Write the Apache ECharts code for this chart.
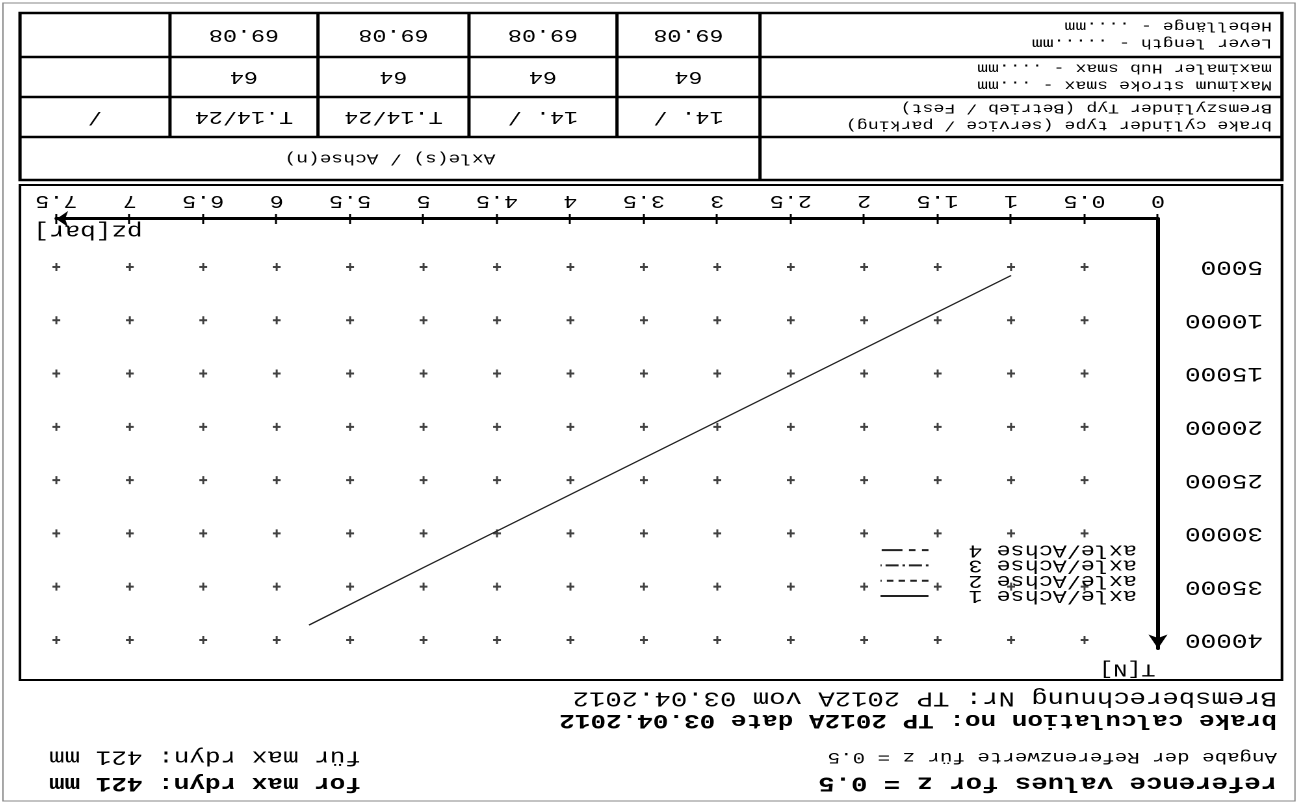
<!DOCTYPE html>
<html>
<head>
<meta charset="utf-8">
<script src="https://cdn.jsdelivr.net/npm/echarts@6/dist/echarts.min.js"></script>
<style>
  html, body { margin: 0; padding: 0; background: #fff; }
  /* the scanned sheet is upside down, so the whole page is turned round */
  #sheet { width: 1303px; height: 802px; overflow: hidden; background: #fff; transform: rotate(180deg); }
  /* typewriter text on the scan is wide, stretch everything a bit */
  #chart { height: 802px; transform-origin: 0 0; }
</style>
</head>
<body>
<div id="sheet"><div id="chart"></div></div>
<script>
const S = 1.3;
const W = 1303 / S;
const X = v => v / S;
const FONT = '"Liberation Mono", "DejaVu Sans Mono", monospace';

// axis ticks
const xTicks = [0, 0.5, 1, 1.5, 2, 2.5, 3, 3.5, 4, 4.5, 5, 5.5, 6, 6.5, 7, 7.5];
const yTicks = [5000, 10000, 15000, 20000, 25000, 30000, 35000, 40000];

// series
const axleNames = ['axle/Achse 1', 'axle/Achse 2', 'axle/Achse 3', 'axle/Achse 4'];
const axle1Pressure = [1.0, 2.0, 3.0, 4.0, 5.0, 5.78];
const axle1Force = [5800, 12650, 19500, 26350, 33200, 38600];

// table
const tableHeader = 'Axle(s) / Achse(n)';
const cylinderTypes = ['14. /', '14. /', 'T.14/24', 'T.14/24', '/'];
const maxStroke = ['64', '64', '64', '64', ''];
const leverLength = ['69.08', '69.08', '69.08', '69.08', ''];
const cylinderLabel = ['brake cylinder type (service / parking)', 'Bremszylinder Typ (Betrieb / Fest)'];
const strokeLabel = ['Maximum stroke smax - ...mm', 'maximaler Hub smax - ....mm'];
const leverLabel = ['Lever length - .....mm', 'Hebellänge - ....mm'];

// footer
const footerLeft = [
  ['Bremsberechnung Nr: TP 2012A vom 03.04.2012', false, 21, 104],
  ['brake calculation no: TP 2012A date 03.04.2012', true, 20, 82],
  ['Angabe der Referenzwerte für z = 0.5', false, 16, 45],
  ['reference values for z = 0.5', true, 21, 19]
];
const footerRight = [
  ['für max rdyn: 421 mm', false, 20, 45],
  ['for max rdyn: 421 mm', true, 20, 19]
];

document.getElementById('chart').style.width = W + 'px';
document.getElementById('chart').style.transform = 'scaleX(' + S + ')';

function txt(str, x, y, size, align, bold) {
  return {
    type: 'text', x: X(x), y: y, silent: true,
    style: {
      text: str, fill: '#000',
      font: (bold ? 'bold ' : '') + size + 'px ' + FONT,
      align: align || 'left', verticalAlign: 'middle'
    }
  };
}
function ln(x1, y1, x2, y2, w, c) {
  return {
    type: 'line', silent: true,
    shape: { x1: X(x1), y1: y1, x2: X(x2), y2: y2 },
    style: { stroke: c || '#000', lineWidth: w || 2 }
  };
}

// table geometry
const cols = [543, 686, 834, 985, 1133, 1283];
const rows = [622, 665, 705, 745, 789];

const graphics = [];
// page frame and chart box
graphics.push({ type: 'rect', silent: true, shape: { x: X(8), y: 1, width: X(1292), height: 798 }, style: { fill: 'none', stroke: '#888', lineWidth: 1 } });
graphics.push({ type: 'rect', silent: true, shape: { x: X(21), y: 122, width: X(1262), height: 495 }, style: { fill: 'none', stroke: '#000', lineWidth: 2 } });
// table lines
graphics.push({ type: 'rect', silent: true, shape: { x: X(21), y: rows[0], width: X(1262), height: rows[4] - rows[0] }, style: { fill: 'none', stroke: '#000', lineWidth: 2.5 } });
for (let i = 1; i < 4; i++) graphics.push(ln(21, rows[i], 1283, rows[i], 2.5));
graphics.push(ln(cols[0], rows[0], cols[0], rows[4], 2.5));
for (let i = 1; i < 5; i++) graphics.push(ln(cols[i], rows[1], cols[i], rows[4], 2.5));
// table texts
graphics.push(txt(tableHeader, (cols[0] + cols[5]) / 2, (rows[0] + rows[1]) / 2, 15, 'center'));
[cylinderTypes, maxStroke, leverLength].forEach((vals, r) => {
  vals.forEach((v, i) => {
    if (v) graphics.push(txt(v, (cols[i] + cols[i + 1]) / 2, (rows[r + 1] + rows[r + 2]) / 2, 18, 'center'));
  });
});
[cylinderLabel, strokeLabel, leverLabel].forEach((lab, r) => {
  const mid = (rows[r + 1] + rows[r + 2]) / 2;
  graphics.push(txt(lab[0], 31, mid - 8, 14));
  graphics.push(txt(lab[1], 31, mid + 9, 14));
});
footerLeft.forEach(f => graphics.push(txt(f[0], 26, f[3], f[2], 'left', f[1])));
footerRight.forEach(f => graphics.push(txt(f[0], 942, f[3], f[2], 'left', f[1])));

// "+" marks at every grid crossing
const crossData = [];
xTicks.slice(1).forEach(x => yTicks.forEach(y => crossData.push([x, y])));
const plusPath = 'path://M3,0h2v3h3v2h-3v3h-2v-3h-3v-2h3z';

const lineTypes = ['solid', [5, 4], [2, 3, 10, 3], [5, 5, 5, 5, 16, 3]];

const chart = echarts.init(document.getElementById('chart'), null, { renderer: 'canvas', devicePixelRatio: 2 });
chart.setOption({
  animation: false,
  backgroundColor: '#fff',
  textStyle: { fontFamily: FONT },
  grid: { left: X(145), right: W - X(1247), top: 153.5, bottom: 219, containLabel: false },
  legend: {
    data: axleNames.map(n => ({ name: n, textStyle: { fontSize: 18, fontFamily: FONT, color: '#000' } })),
    orient: 'vertical',
    left: X(166), top: 197,
    padding: 0,
    align: 'right',
    itemWidth: X(48), itemHeight: 13, itemGap: -2.7,
    itemStyle: { opacity: 0 },
    textStyle: { fontFamily: FONT, fontSize: 18, lineHeight: 13, color: '#000', padding: [0, X(40) - 5, 0, 0] }
  },
  xAxis: [
    {
      type: 'value', min: 0, max: 7.5, interval: 0.5, position: 'bottom',
      axisLine: { show: true, symbol: ['none', 'arrow'], symbolSize: [12, 9], lineStyle: { color: '#000', width: 3 } },
      axisTick: { show: true, length: 5, lineStyle: { color: '#000', width: 1.5 } },
      axisLabel: { customValues: xTicks, margin: 9, fontSize: 18, fontFamily: FONT, color: '#000' },
      splitLine: { show: false },
      name: 'pz[bar]', nameLocation: 'end', nameGap: X(23),
      nameTextStyle: { fontFamily: FONT, fontSize: 20, color: '#000', align: 'right', verticalAlign: 'bottom', padding: [0, 0, 2, 0] }
    },
    {
      type: 'value', min: 0, max: 7.5, interval: 0.5, position: 'bottom',
      axisLine: { show: false },
      axisTick: { show: true, inside: true, length: 5, lineStyle: { color: '#000', width: 1.5 } },
      axisLabel: { show: false },
      splitLine: { show: false }
    }
  ],
  yAxis: {
    type: 'value', min: 500, max: 40800,
    axisLine: { show: true, symbol: ['none', 'arrow'], symbolSize: [11, 14], lineStyle: { color: '#000', width: 3 } },
    axisTick: { show: false },
    splitLine: { show: false },
    axisLabel: {
      customValues: yTicks, align: 'left', margin: X(145 - 40), fontSize: 20, fontFamily: FONT, color: '#000',
      formatter: v => String(v)
    },
    name: 'T[N]', nameLocation: 'end', nameGap: 21,
    nameTextStyle: { fontFamily: FONT, fontSize: 18, color: '#000', align: 'left', verticalAlign: 'middle', padding: [0, 0, 0, 2] }
  },
  series: [
    {
      name: 'crossings', type: 'scatter', data: crossData, silent: true,
      symbol: plusPath, symbolSize: [6, 8], itemStyle: { color: '#111' }
    },
    {
      name: axleNames[0], type: 'line', symbol: 'none', z: 5,
      data: axle1Pressure.map((p, i) => [p, axle1Force[i]]),
      lineStyle: { color: '#222', width: 1.3, type: lineTypes[0] }, itemStyle: { color: '#222' }
    },
    // axles 2-4 are in the legend but no own curve is visible on the sheet
    { name: axleNames[1], type: 'line', symbol: 'none', data: [], lineStyle: { color: '#222', width: 1.2, type: lineTypes[1] }, itemStyle: { color: '#222' } },
    { name: axleNames[2], type: 'line', symbol: 'none', data: [], lineStyle: { color: '#222', width: 1.2, type: lineTypes[2] }, itemStyle: { color: '#222' } },
    { name: axleNames[3], type: 'line', symbol: 'none', data: [], lineStyle: { color: '#222', width: 1.2, type: lineTypes[3] }, itemStyle: { color: '#222' } }
  ],
  graphic: graphics
});
</script>
</body>
</html>
